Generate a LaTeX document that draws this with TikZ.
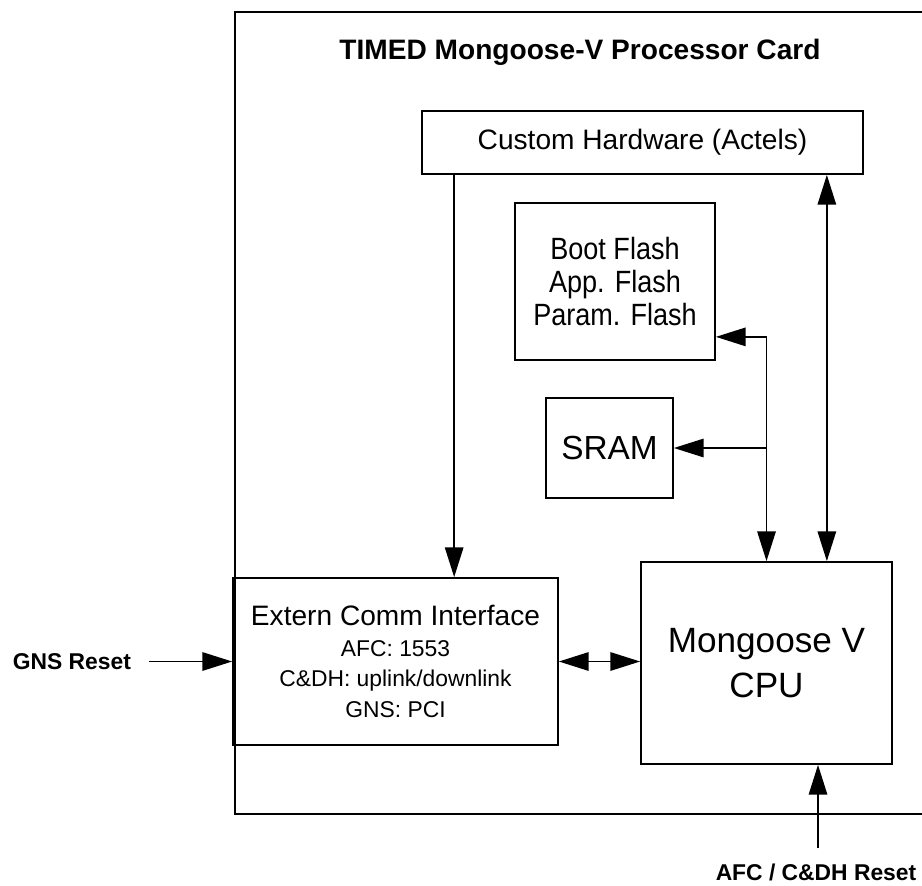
\documentclass[tikz,border=0pt]{standalone}
\usepackage{fontspec}
\setmainfont{Liberation Sans}
\newfontfamily\narrowfont{Liberation Sans}[FakeStretch=0.88]
\usetikzlibrary{positioning,arrows.meta}

\begin{document}
\begin{tikzpicture}[x=0.02cm, y=-0.02cm,
    unit/.style={draw, line width=1pt, inner sep=0pt, align=center, font=\fontsize{16}{16.5}\selectfont},
    bus/.style={line width=1pt, -{Triangle[length=17pt,width=10.5pt]}},
    dbus/.style={line width=1pt, {Triangle[length=17pt,width=10.5pt]}-{Triangle[length=17pt,width=10.5pt]}},
    extlabel/.style={font=\fontsize{13}{15}\selectfont\bfseries}
]
\useasboundingbox (0,0) rectangle (922,885);

% Processor card (right edge runs off the page)
\draw[line width=1pt] (960,12) -- (235,12) -- (235,814) -- (960,814);
\node[font=\fontsize{16}{18}\selectfont\bfseries] (title) at (580,52) {TIMED Mongoose-V Processor Card};

% Units on the card
\node[unit, minimum width=8.82cm, minimum height=1.26cm] (custom) at (642.5,142.5) {Custom Hardware (Actels)};
\node[unit, minimum width=4cm, minimum height=3.14cm, font=\narrowfont\fontsize{17.5}{19}\selectfont] (flash) at (615,281.5) {Boot Flash\\App. Flash\\Param. Flash};
\node[unit, minimum width=2.54cm, minimum height=2cm, font=\fontsize{19}{21}\selectfont] (sram) at (609.5,448) {SRAM};
\node[unit, minimum width=6.5cm, minimum height=3.34cm, font=\fontsize{13}{17.5}\selectfont] (ext) at (395.5,661.5)
    {{\fontsize{16}{18}\selectfont Extern Comm Interface}\\AFC: 1553\\C\&DH: uplink/downlink\\GNS: PCI};
\node[unit, minimum width=5.02cm, minimum height=4.04cm, font=\fontsize{20}{25.5}\selectfont] (cpu) at (766.5,663) {Mongoose V\\CPU};

% Connections
\draw[bus] ([xshift=0.66cm]custom.south west) -- ([xshift=0.66cm]custom.south west |- ext.north);
\draw[dbus] ([xshift=-0.74cm]custom.south east) -- ([xshift=-0.74cm]custom.south east |- cpu.north);
\coordinate (fltap) at ([yshift=0.48cm]flash.south east);
\draw[bus] (cpu.north |- fltap) -- (cpu.north);
\draw[bus] (cpu.north |- fltap) -- (fltap);
\draw[bus] (cpu.north |- sram.east) -- (sram.east);
\draw[dbus] (ext.east) -- (ext.east -| cpu.west);

% Resets
\node[extlabel, left=1.9cm of ext] (gns) {GNS Reset};
\draw[bus] ([xshift=0.24cm]gns.east) -- (ext.west);
\node[extlabel] (afc) at (816,872) {AFC / C\&DH Reset};
\draw[bus] ([xshift=0.04cm,yshift=0.18cm]afc.north) -- ([xshift=0.04cm]afc.north |- cpu.south);

\end{tikzpicture}
\end{document}
